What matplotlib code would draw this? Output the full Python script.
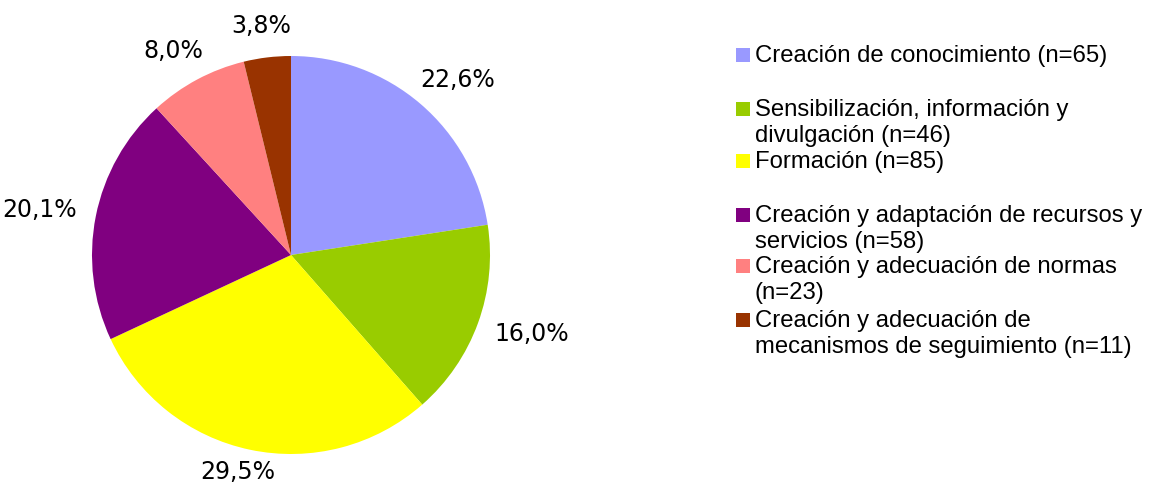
import numpy as np
import matplotlib.pyplot as plt
from matplotlib.patches import Rectangle

# Datos
categorias = [
    "Creación de conocimiento (n=65)",
    "Sensibilización, información y\ndivulgación (n=46)",
    "Formación (n=85)",
    "Creación y adaptación de recursos y\nservicios (n=58)",
    "Creación y adecuación de normas\n(n=23)",
    "Creación y adecuación de\nmecanismos de seguimiento (n=11)",
]
n = [65, 46, 85, 58, 23, 11]
colores = ["#9999FF", "#99CC00", "#FFFF00", "#800080", "#FF8080", "#993300"]

total = sum(n)
etiquetas = [f"{100 * v / total:.1f}".replace(".", ",") + "%" for v in n]

W, H = 1152, 488
fig = plt.figure(figsize=(W / 100, H / 100), dpi=100)

# pie placement (pixels)
R = 199
cx, cy = 291, 255
ax = fig.add_axes([(cx - R) / W, (H - cy - R) / H, 2 * R / W, 2 * R / H])
wedges, _ = ax.pie(n, colors=colores, startangle=90, counterclock=False,
                   wedgeprops=dict(linewidth=0))
ax.set_xlim(-1, 1)
ax.set_ylim(-1, 1)

renderer = fig.canvas.get_renderer()
ymin = -(H - cy) / R  # bottom of the figure in data units
for w, lab in zip(wedges, etiquetas):
    th = np.deg2rad((w.theta1 + w.theta2) / 2)
    t = ax.text(0, 0, lab, ha="center", va="center", fontsize=17,
                family="DejaVu Sans", color="black")
    bb = t.get_window_extent(renderer)
    ww, hh = bb.width / R, bb.height / R
    d = 1.1
    x = d * np.cos(th) + ww / 2 * np.cos(th)
    y = d * np.sin(th) + hh / 2 * np.sin(th)
    y = max(y, ymin + hh / 2 + 0.02)  # keep inside the figure
    t.set_position((x, y))

# legend drawn by hand to mimic the spreadsheet layout
leg_y = [62, 116, 168, 222, 273, 327]
line_h = 26
for y, lab, c in zip(leg_y, categorias, colores):
    fig.add_artist(Rectangle((736 / W, 1 - y / H), 14 / W, 14 / H,
                             transform=fig.transFigure, color=c, lw=0))
    for k, line in enumerate(lab.split("\n")):
        fig.text(755 / W, 1 - (y + line_h * k) / H, line, va="baseline",
                 fontsize=17.2, family="Liberation Sans")

fig.savefig("out.png", dpi=100)
